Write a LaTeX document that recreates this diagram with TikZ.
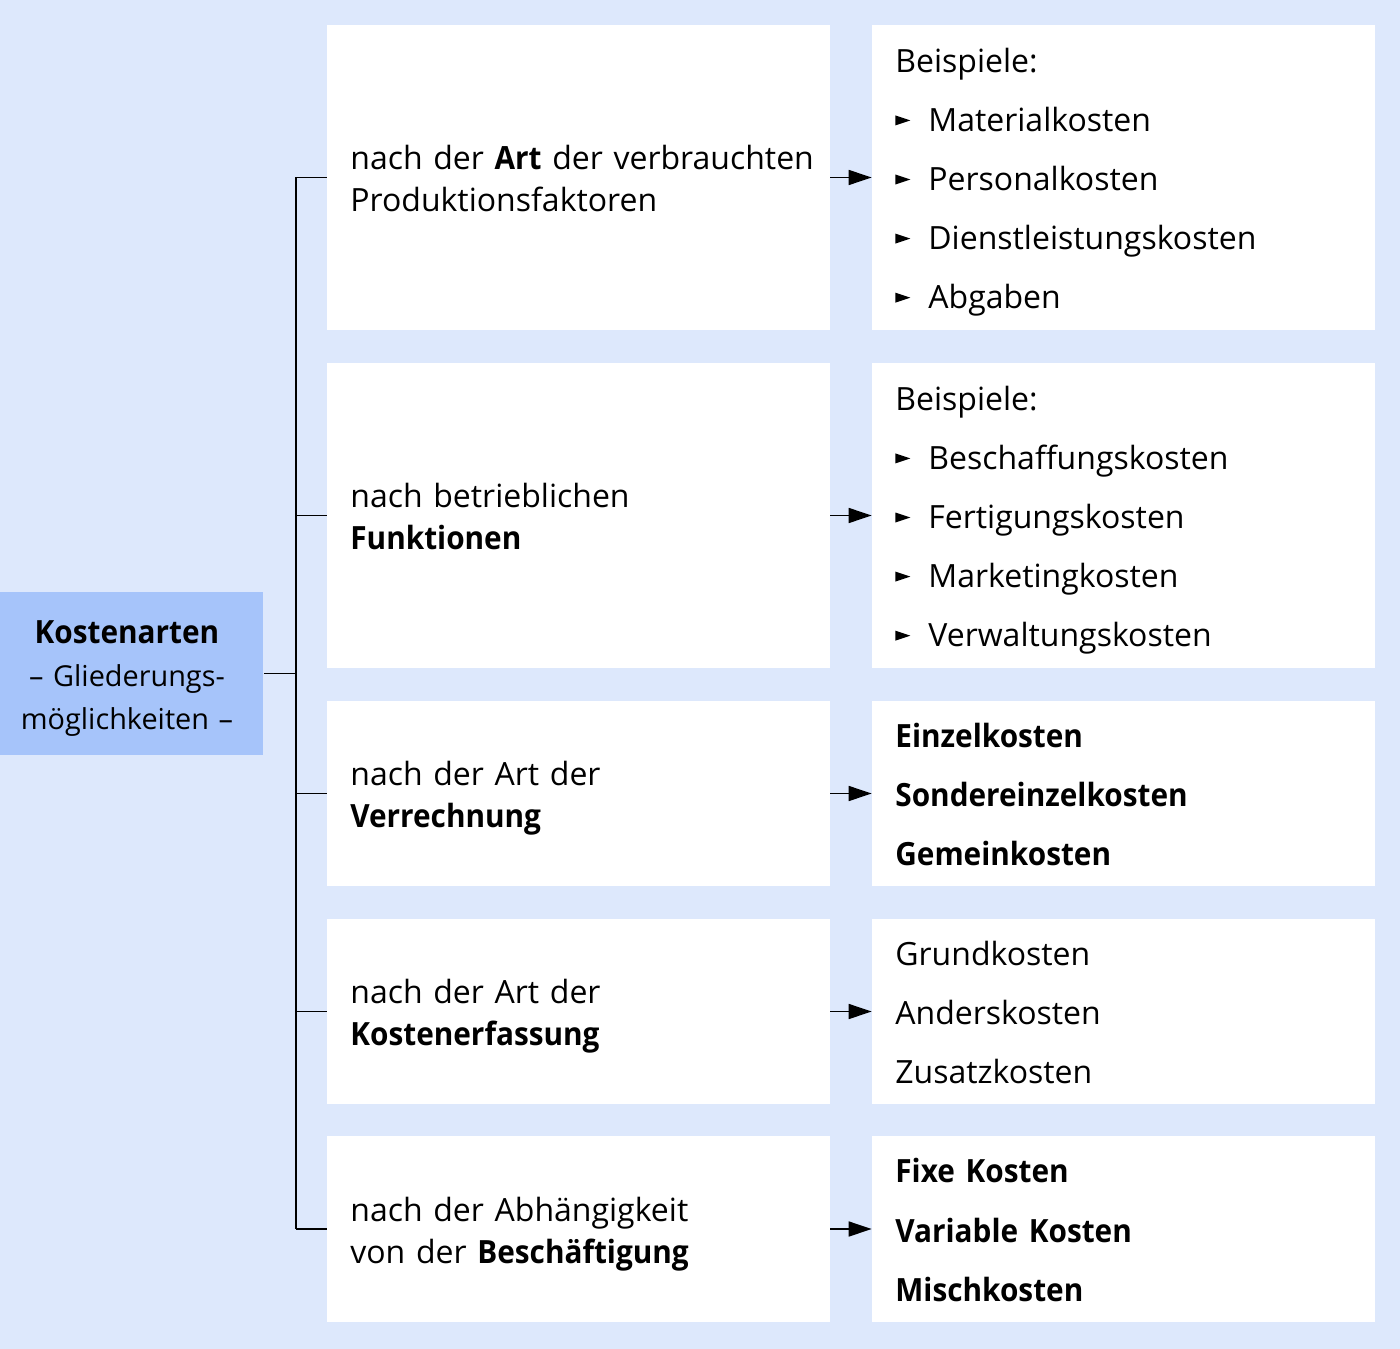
\documentclass[tikz,border=0pt]{standalone}
\usepackage{fontspec}
\setmainfont{Open Sans}[BoldFeatures={FakeStretch=0.93}]
\usetikzlibrary{arrows.meta}

% small pointer in front of the list entries
\newcommand{\spitze}{\tikz[baseline=0pt]\fill (0pt,0.06cm) -- (0.15cm,0.11cm) -- (0pt,0.16cm) -- cycle;}
\newcommand{\punkt}[1]{\makebox[0.33cm][l]{\spitze}#1}

\begin{document}
\begin{tikzpicture}[x=0.01cm, y=-0.01cm,
  zeilen/.style={execute at begin node={\rule{0pt}{10pt}},
    execute at end node={\rule[-2.6pt]{0pt}{2.6pt}}},
  kasten/.style={fill=white, inner xsep=0.23cm, inner ysep=0pt, align=left,
    text width=4.56cm, minimum width=5.02cm, zeilen},
  hoch/.style={minimum height=3.05cm},
  flach/.style={minimum height=1.85cm},
  mitte/.style={font=\fontsize{9.1pt}{11.95pt}\selectfont},
  liste/.style={font=\fontsize{9.1pt}{16.8pt}\selectfont},
  listefett/.style={font=\fontsize{9.1pt}{16.8pt}\selectfont\bfseries},
  linie/.style={line width=0.45pt},
  pfeil/.style={line width=0.45pt, -{Triangle[length=0.23cm, width=0.15cm]}}]

  \definecolor{grund}{RGB}{221, 232, 252}
  \definecolor{kopf}{RGB}{166, 196, 250}

  % Background
  \useasboundingbox (0,0) rectangle (1400,1349);
  \fill[grund] (0,0) rectangle (1400,1349);

  % Head box
  \node[fill=kopf, minimum width=2.72cm, minimum height=1.63cm, inner sep=0pt,
    text width=2.6cm, align=center, font=\fontsize{8.2pt}{12.2pt}\selectfont,
    zeilen] (kosten) at (127,673.5)
    {{\fontsize{9.1pt}{12.2pt}\selectfont\textbf{Kostenarten}}\\– Gliederungs-\\möglichkeiten –};

  % Criteria (middle column)
  \node[kasten, hoch, mitte] (art) at (578.5,177.5)
    {\mbox{nach der \textbf{Art} der verbrauchten}\\Produktionsfaktoren};
  \node[kasten, hoch, mitte] (funktion) at (578.5,515.5)
    {nach betrieblichen\\\textbf{Funktionen}};
  \node[kasten, flach, mitte] (verrechnung) at (578.5,793.5)
    {nach der Art der\\\textbf{Verrechnung}};
  \node[kasten, flach, mitte] (erfassung) at (578.5,1011.5)
    {nach der Art der\\\textbf{Kostenerfassung}};
  \node[kasten, flach, mitte] (beschaeftigung) at (578.5,1229)
    {nach der Abhängigkeit\\von der \textbf{Beschäftigung}};

  % Cost types (right column)
  \node[kasten, hoch, liste] (artbsp) at (1123.5,177.5)
    {Beispiele:\\\punkt{Materialkosten}\\\punkt{Personalkosten}\\
     \punkt{Dienstleistungskosten}\\\punkt{Abgaben}};
  \node[kasten, hoch, liste] (funktionbsp) at (1123.5,515.5)
    {Beispiele:\\\punkt{Beschaffungskosten}\\\punkt{Fertigungskosten}\\
     \punkt{Marketingkosten}\\\punkt{Verwaltungskosten}};
  \node[kasten, flach, listefett] (verrechnungbsp) at (1123.5,793.5)
    {Einzelkosten\\Sondereinzelkosten\\Gemeinkosten};
  \node[kasten, flach, liste] (erfassungbsp) at (1123.5,1011.5)
    {Grundkosten\\Anderskosten\\Zusatzkosten};
  \node[kasten, flach, listefett] (beschaeftigungbsp) at (1123.5,1229)
    {Fixe Kosten\\Variable Kosten\\Mischkosten};

  % Tree lines
  \coordinate (stamm) at (296,673.5);
  \draw[linie] (kosten.east) -- (stamm);
  \draw[linie] (stamm |- art.west) -- (stamm |- beschaeftigung.west);
  \draw[linie] (stamm |- art.west) -- (art.west);
  \draw[linie] (stamm |- funktion.west) -- (funktion.west);
  \draw[linie] (stamm |- verrechnung.west) -- (verrechnung.west);
  \draw[linie] (stamm |- erfassung.west) -- (erfassung.west);
  \draw[linie] (stamm |- beschaeftigung.west) -- (beschaeftigung.west);

  % Arrows
  \draw[pfeil] (art.east) -- (artbsp.west);
  \draw[pfeil] (funktion.east) -- (funktionbsp.west);
  \draw[pfeil] (verrechnung.east) -- (verrechnungbsp.west);
  \draw[pfeil] (erfassung.east) -- (erfassungbsp.west);
  \draw[pfeil] (beschaeftigung.east) -- (beschaeftigungbsp.west);

\end{tikzpicture}
\end{document}
